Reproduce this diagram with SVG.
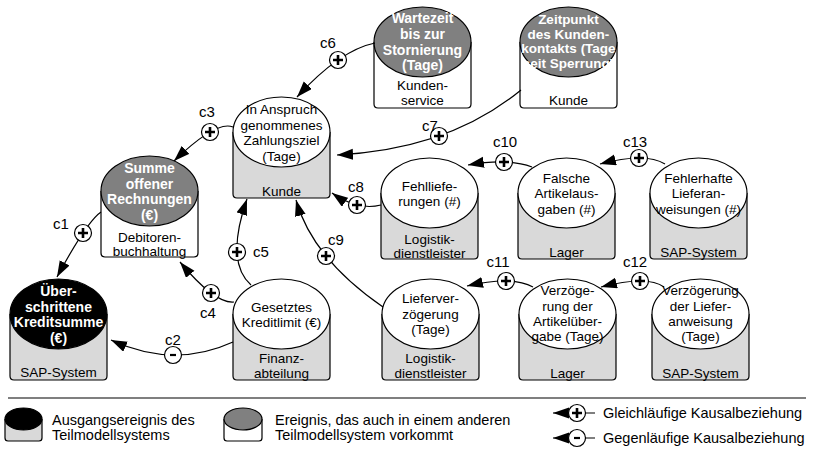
<svg xmlns="http://www.w3.org/2000/svg" xmlns:xlink="http://www.w3.org/1999/xlink" width="813" height="450" viewBox="0 0 813 450">
  <style>
    .box { stroke: #000; stroke-width: 1.2; }
    .box.g { fill: #d9d9d9; }
    .box.w { fill: #fff; }
    .ell { stroke: #000; stroke-width: 1.2; }
    .ell.w { fill: #fff; }
    .ell.g { fill: #808080; }
    .ell.b { fill: #000; }
    text { font-family: "Liberation Sans", Arial, sans-serif; fill: #000; }
    .t { font-size: 13.5px; text-anchor: middle; }
    .tb { font-size: 14px; text-anchor: middle; font-weight: bold; fill: #fff; }
    .lbl { font-size: 15px; text-anchor: middle; }
    .leg { font-size: 14.5px; }
    .link { fill: none; stroke: #000; stroke-width: 1.2; marker-end: url(#arrow); }
    .sgn circle { fill: #fff; stroke: #000; stroke-width: 1.2; }
    .sgn path { stroke: #000; stroke-width: 2.6; fill: none; }
  </style>
  <defs>
    <marker id="arrow" markerUnits="userSpaceOnUse" markerWidth="17" markerHeight="12" refX="16" refY="5.5" orient="auto">
      <path d="M0,0 L16,5.5 L0,11 z" fill="#000"/>
    </marker>
    <g id="plus" class="sgn"><circle r="8.5"/><path d="M-5,0H5M0,-5V5"/></g>
    <g id="minus" class="sgn"><circle r="8.5"/><path d="M-3,0H3" style="stroke-width:2.2"/></g>
  </defs>

  <rect width="813" height="450" fill="#fff"/>

  <!-- nodes: ellipse = event, box below = owning unit -->
  <g id="n-zahlungsziel" transform="translate(233,97)">
    <path class="box g" d="M0,35 V97 Q0,101 4,101 H93 Q97,101 97,97 V35"/>
    <ellipse class="ell w" cx="48.5" cy="35" rx="48.5" ry="35"/>
    <text class="t"><tspan x="48.5" y="17">In Anspruch</tspan><tspan x="48.5" y="32.5">genommenes</tspan><tspan x="48.5" y="48">Zahlungsziel</tspan><tspan x="48.5" y="63.5">(Tage)</tspan></text>
    <text class="t" x="48.5" y="99">Kunde</text>
  </g>

  <g id="n-summe" transform="translate(101,156)">
    <path class="box w" d="M0,35 V97 Q0,101 4,101 H93 Q97,101 97,97 V35"/>
    <ellipse class="ell g" cx="48.5" cy="35" rx="48.5" ry="35"/>
    <text class="tb"><tspan x="48.5" y="17">Summe</tspan><tspan x="48.5" y="32.5">offener</tspan><tspan x="48.5" y="48">Rechnungen</tspan><tspan x="48.5" y="63.5">(€)</tspan></text>
    <text class="t"><tspan x="48.5" y="85.5">Debitoren-</tspan><tspan x="48.5" y="100">buchhaltung</tspan></text>
  </g>

  <g id="n-kreditsumme" transform="translate(10,279)">
    <path class="box g" d="M0,35 V97 Q0,101 4,101 H93 Q97,101 97,97 V35"/>
    <ellipse class="ell b" cx="48.5" cy="35" rx="48.5" ry="35"/>
    <text class="tb"><tspan x="48.5" y="17">Über-</tspan><tspan x="48.5" y="32.5">schrittene</tspan><tspan x="48.5" y="48">Kreditsumme</tspan><tspan x="48.5" y="63.5">(€)</tspan></text>
    <text class="t" x="48.5" y="97.5">SAP-System</text>
  </g>

  <g id="n-wartezeit" transform="translate(374,7)">
    <path class="box w" d="M0,35 V97 Q0,101 4,101 H93 Q97,101 97,97 V35"/>
    <ellipse class="ell g" cx="48.5" cy="35" rx="48.5" ry="35"/>
    <text class="tb"><tspan x="48.5" y="16">Wartezeit</tspan><tspan x="48.5" y="32">bis zur</tspan><tspan x="48.5" y="47.5">Stornierung</tspan><tspan x="48.5" y="63">(Tage)</tspan></text>
    <text class="t"><tspan x="48.5" y="83">Kunden-</tspan><tspan x="48.5" y="97.5">service</tspan></text>
  </g>

  <g id="n-kundenkontakt" transform="translate(520,7)">
    <path class="box w" d="M0,35 V97 Q0,101 4,101 H93 Q97,101 97,97 V35"/>
    <ellipse class="ell g" cx="48.5" cy="35" rx="48.5" ry="35"/>
    <text class="tb" style="font-size:13.5px"><tspan x="48.5" y="16.5">Zeitpunkt</tspan><tspan x="48.5" y="31.5">des Kunden-</tspan><tspan x="48.5" y="46">kontakts (Tage</tspan><tspan x="48.5" y="61">seit Sperrung)</tspan></text>
    <text class="t" x="48.5" y="97.5">Kunde</text>
  </g>

  <g id="n-fehllieferungen" transform="translate(381,158)">
    <path class="box g" d="M0,35 V97 Q0,101 4,101 H93 Q97,101 97,97 V35"/>
    <ellipse class="ell w" cx="48.5" cy="35" rx="48.5" ry="35"/>
    <text class="t"><tspan x="48.5" y="32.5">Fehlliefe-</tspan><tspan x="48.5" y="48">rungen (#)</tspan></text>
    <text class="t"><tspan x="48.5" y="85.5">Logistik-</tspan><tspan x="48.5" y="100">dienstleister</tspan></text>
  </g>

  <g id="n-artikelausgaben" transform="translate(518,158)">
    <path class="box g" d="M0,35 V97 Q0,101 4,101 H93 Q97,101 97,97 V35"/>
    <ellipse class="ell w" cx="48.5" cy="35" rx="48.5" ry="35"/>
    <text class="t"><tspan x="48.5" y="24.5">Falsche</tspan><tspan x="48.5" y="40">Artikelaus-</tspan><tspan x="48.5" y="56">gaben (#)</tspan></text>
    <text class="t" x="48.5" y="98.5">Lager</text>
  </g>

  <g id="n-lieferanweisungen" transform="translate(650,158)">
    <path class="box g" d="M0,35 V97 Q0,101 4,101 H93 Q97,101 97,97 V35"/>
    <ellipse class="ell w" cx="48.5" cy="35" rx="48.5" ry="35"/>
    <text class="t"><tspan x="48.5" y="24.5">Fehlerhafte</tspan><tspan x="48.5" y="40">Lieferan-</tspan><tspan x="48.5" y="56">weisungen (#)</tspan></text>
    <text class="t" x="48.5" y="98.5">SAP-System</text>
  </g>

  <g id="n-kreditlimit" transform="translate(233,279)">
    <path class="box g" d="M0,35 V97 Q0,101 4,101 H93 Q97,101 97,97 V35"/>
    <ellipse class="ell w" cx="48.5" cy="35" rx="48.5" ry="35"/>
    <text class="t"><tspan x="48.5" y="32.5">Gesetztes</tspan><tspan x="48.5" y="48">Kreditlimit (€)</tspan></text>
    <text class="t"><tspan x="48.5" y="84">Finanz-</tspan><tspan x="48.5" y="99">abteilung</tspan></text>
  </g>

  <g id="n-lieferverzoegerung" transform="translate(382,279)">
    <path class="box g" d="M0,35 V97 Q0,101 4,101 H93 Q97,101 97,97 V35"/>
    <ellipse class="ell w" cx="48.5" cy="35" rx="48.5" ry="35"/>
    <text class="t"><tspan x="48.5" y="24">Lieferver-</tspan><tspan x="48.5" y="40">zögerung</tspan><tspan x="48.5" y="55">(Tage)</tspan></text>
    <text class="t"><tspan x="48.5" y="84">Logistik-</tspan><tspan x="48.5" y="99">dienstleister</tspan></text>
  </g>

  <g id="n-artikeluebergabe" transform="translate(519,279)">
    <path class="box g" d="M0,35 V97 Q0,101 4,101 H93 Q97,101 97,97 V35"/>
    <ellipse class="ell w" cx="48.5" cy="35" rx="48.5" ry="35"/>
    <text class="t"><tspan x="48.5" y="16">Verzöge-</tspan><tspan x="48.5" y="31.5">rung der</tspan><tspan x="48.5" y="47">Artikelüber-</tspan><tspan x="48.5" y="62">gabe (Tage)</tspan></text>
    <text class="t" x="48.5" y="99">Lager</text>
  </g>

  <g id="n-lieferanweisung" transform="translate(652,279)">
    <path class="box g" d="M0,35 V97 Q0,101 4,101 H93 Q97,101 97,97 V35"/>
    <ellipse class="ell w" cx="48.5" cy="35" rx="48.5" ry="35"/>
    <text class="t"><tspan x="48.5" y="16">Verzögerung</tspan><tspan x="48.5" y="31.5">der Liefer-</tspan><tspan x="48.5" y="47">anweisung</tspan><tspan x="48.5" y="62">(Tage)</tspan></text>
    <text class="t" x="48.5" y="99">SAP-System</text>
  </g>

  <!-- causal links: curve, polarity sign, label -->
  <g id="connectors">
    <path class="link" d="M101,212 Q87,221.5 57,277"/>
    <path class="link" d="M233,342 Q174,369 111,340"/>
    <path class="link" d="M233,127 Q216.5,120 174,161"/>
    <path class="link" d="M234,302 Q215,304 180,262"/>
    <path class="link" d="M251,285 Q225,262 247,199"/>
    <path class="link" d="M375,43 Q340,50 297,97"/>
    <path class="link" d="M521,90 Q449,149.5 337,155"/>
    <path class="link" d="M381,205 Q357.5,211 332,193"/>
    <path class="link" d="M383,307 Q312.5,258.5 296,200"/>
    <path class="link" d="M532,167 Q508,158 468,165"/>
    <path class="link" d="M533,287 Q512,275.5 467,286"/>
    <path class="link" d="M664,287 Q647.5,275 601,287"/>
    <path class="link" d="M665,164 Q645.5,152 600,164"/>

    <use xlink:href="#plus" x="83" y="233"/>
    <use xlink:href="#minus" x="173" y="355"/>
    <use xlink:href="#plus" x="210" y="132"/>
    <use xlink:href="#plus" x="211" y="293"/>
    <use xlink:href="#plus" x="237" y="252"/>
    <use xlink:href="#plus" x="338" y="60"/>
    <use xlink:href="#plus" x="439" y="136"/>
    <use xlink:href="#plus" x="357" y="205"/>
    <use xlink:href="#plus" x="326" y="256"/>
    <use xlink:href="#plus" x="504" y="162"/>
    <use xlink:href="#plus" x="506" y="281"/>
    <use xlink:href="#plus" x="640" y="281"/>
    <use xlink:href="#plus" x="639" y="158"/>

    <text class="lbl" x="61" y="229">c1</text>
    <text class="lbl" x="173" y="345">c2</text>
    <text class="lbl" x="207" y="117">c3</text>
    <text class="lbl" x="208" y="318">c4</text>
    <text class="lbl" x="261" y="257">c5</text>
    <text class="lbl" x="328" y="48">c6</text>
    <text class="lbl" x="430" y="131">c7</text>
    <text class="lbl" x="356" y="192">c8</text>
    <text class="lbl" x="336" y="245">c9</text>
    <text class="lbl" x="505" y="147">c10</text>
    <text class="lbl" x="498" y="267">c11</text>
    <text class="lbl" x="635" y="267">c12</text>
    <text class="lbl" x="635" y="147">c13</text>
  </g>

  <!-- legend -->
  <g id="legend">
    <line x1="8" y1="398" x2="806" y2="398" stroke="#000" stroke-width="1.2"/>
    <g id="leg-start">
      <path class="box g" d="M5,419 V438 Q5,441 8,441 H39 Q42,441 42,438 V419"/>
      <ellipse class="ell b" cx="23.5" cy="419" rx="18.5" ry="11"/>
      <text class="leg"><tspan x="52" y="425">Ausgangsereignis des</tspan><tspan x="52" y="440">Teilmodellsystems</tspan></text>
    </g>
    <g id="leg-shared">
      <path class="box w" d="M224,419 V438 Q224,441 227,441 H259 Q262,441 262,438 V419"/>
      <ellipse class="ell g" cx="243" cy="419" rx="19" ry="11"/>
      <text class="leg"><tspan x="275" y="425">Ereignis, das auch in einem anderen</tspan><tspan x="275" y="440">Teilmodellsystem vorkommt</tspan></text>
    </g>
    <g id="leg-plus">
      <path class="link" d="M595,413 H553"/>
      <use xlink:href="#plus" x="577" y="413"/>
      <text class="leg" x="603" y="418">Gleichläufige Kausalbeziehung</text>
    </g>
    <g id="leg-minus">
      <path class="link" d="M595,438 H553"/>
      <use xlink:href="#minus" x="577" y="438"/>
      <text class="leg" x="603" y="443">Gegenläufige Kausalbeziehung</text>
    </g>
  </g>
</svg>
